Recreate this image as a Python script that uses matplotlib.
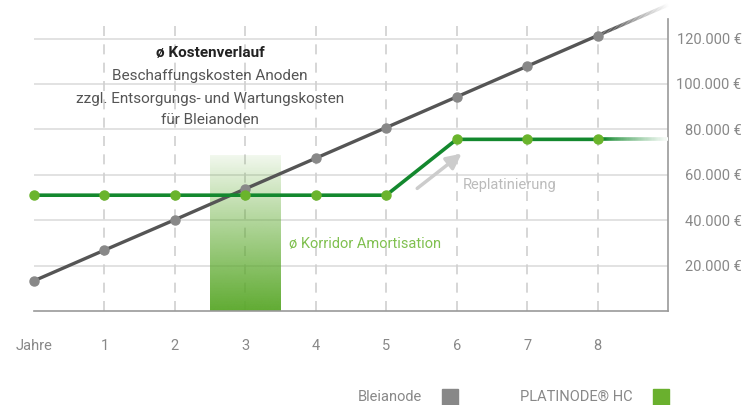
import numpy as np
import matplotlib
matplotlib.use("Agg")
import matplotlib.pyplot as plt
from matplotlib.collections import LineCollection
from matplotlib.colors import to_rgb

plt.rcParams['font.family'] = ['Roboto', 'DejaVu Sans']

# ---- data ----
years = [0, 1, 2, 3, 4, 5, 6, 7, 8]
bleianode = [13300, 26800, 40200, 53800, 67300, 80800, 94300, 107800, 121300]
platinode = [51000, 51000, 51000, 51000, 51000, 51000, 75600, 75600, 75600]
ext_year = 9
bleianode_ext = 134800
platinode_ext = 75600
x_labels = ["Jahre", "1", "2", "3", "4", "5", "6", "7", "8"]
y_ticks = [20000, 40000, 60000, 80000, 100000, 120000]
y_labels = ["20.000 €", "40.000 €", "60.000 €", "80.000 €", "100.000 €", "120.000 €"]
corridor = (2.5, 3.5, 68700)

GRAY_LINE = "#555555"
GRAY_MARK = "#888888"
GREEN_LINE = "#13882e"
GREEN_MARK = "#6ab42c"

fig = plt.figure(figsize=(7.44, 4.05), dpi=100)
ax = fig.add_axes([34/744, (405-311)/405, (668-34)/744, (311-19)/405])
ax.set_xlim(0, 9)
ax.set_ylim(0, 128600)

# horizontal grid
for yv in y_ticks:
    ax.axhline(yv, color="#dddddd", lw=1.2, zorder=1)
# vertical dashed
for xv in years[1:]:
    ax.axvline(xv, color="#d0d0d0", lw=1.2, dashes=(6, 5), zorder=1)

# corridor gradient (opaque at bottom, fading towards top)
x0, x1, top = corridor
n = 256
grad = np.zeros((n, 1, 4))
c = to_rgb("#5aa82a")
grad[..., 0] = c[0]; grad[..., 1] = c[1]; grad[..., 2] = c[2]
grad[:, 0, 3] = 0.08 + 0.88 * np.linspace(1.0, 0.0, n) ** 0.95
ax.imshow(grad, extent=[x0, x1, 0, top], origin='lower', aspect='auto', zorder=2, interpolation='bilinear')
ax.set_xlim(0, 9)
ax.set_ylim(0, 128600)

def fade_line(xa, ya, xb, yb, color, lw, start=0.2):
    t = np.linspace(0, 1, 60)
    xs = xa + (xb - xa) * t
    ys = ya + (yb - ya) * t
    pts = np.array([xs, ys]).T.reshape(-1, 1, 2)
    segs = np.concatenate([pts[:-1], pts[1:]], axis=1)
    base = np.array(to_rgb(color))
    cols = []
    for tt in t[:-1]:
        f = 0 if tt < start else min(1, (tt - start) / (1 - start)) ** 0.8
        cc = base * (1 - f) + np.ones(3) * f
        cols.append((*cc, 1))
    lc = LineCollection(segs, colors=cols, linewidths=lw, zorder=3, clip_on=False, capstyle='butt')
    ax.add_collection(lc)

ax.plot(years, bleianode, color=GRAY_LINE, lw=2.4, zorder=3, solid_capstyle='butt')
fade_line(years[-1], bleianode[-1], ext_year, bleianode_ext, GRAY_LINE, 2.4, start=0.25)
ax.plot(years, bleianode, 'o', color=GRAY_MARK, ms=6.5, zorder=4, clip_on=False)

ax.plot(years, platinode, color=GREEN_LINE, lw=2.6, zorder=3, solid_capstyle='butt')
fade_line(years[-1], platinode[-1], ext_year, platinode_ext, GREEN_LINE, 2.6, start=0.1)
ax.plot(years, platinode, 'o', color=GREEN_MARK, ms=6.5, zorder=4, clip_on=False)

# spines
for s in ["left", "top"]:
    ax.spines[s].set_visible(False)
for s in ["right", "bottom"]:
    ax.spines[s].set_color("#999999")
    ax.spines[s].set_linewidth(1.2)

ax.set_xticks(years)
ax.set_xticklabels(x_labels, color="#888888", fontsize=10.5)
ax.tick_params(axis='x', length=0, pad=20)
ax.yaxis.tick_right()
ax.set_yticks(y_ticks)
ax.set_yticklabels(y_labels, color="#888888", fontsize=10.5)
ax.tick_params(axis='y', length=0, pad=53)
for lab in ax.get_yticklabels():
    lab.set_horizontalalignment('right')

# annotations
tr = ax.get_xaxis_transform()
ax.text(2.5, 0.882, "ø Kostenverlauf", transform=tr, ha='center', va='center',
        fontsize=11, fontweight='bold', color="#222222")
ax.text(2.5, 0.804, "Beschaffungskosten Anoden", transform=tr, ha='center', va='center',
        fontsize=11, color="#555555")
ax.text(2.5, 0.726, "zzgl. Entsorgungs- und Wartungskosten", transform=tr, ha='center', va='center',
        fontsize=11, color="#555555")
ax.text(2.5, 0.653, "für Bleianoden", transform=tr, ha='center', va='center',
        fontsize=11, color="#555555")

ax.text(3.62, 29500, "ø Korridor Amortisation", ha='left', va='center', fontsize=10.5, color="#80c050", zorder=5)
ax.text(6.08, 55500, "Replatinierung", ha='left', va='center', fontsize=10.5, color="#bbbbbb", zorder=5)
ax.annotate("", xy=(6.07, 69300), xytext=(5.44, 54000),
            arrowprops=dict(arrowstyle='-|>,head_length=0.9,head_width=0.45', color="#cccccc", lw=2.5,
                            shrinkA=0, shrinkB=0), zorder=5)

# legend
fig.text(422/744, (405-397)/405, "Bleianode", ha='right', va='center', fontsize=10.5, color="#888888")
fig.patches.append(plt.Rectangle((442/744, 0), 16/744, 16/405, transform=fig.transFigure,
                                 color=GRAY_MARK, figure=fig))
fig.text(633/744, (405-397)/405, "PLATINODE® HC", ha='right', va='center', fontsize=10.5, color="#888888")
fig.patches.append(plt.Rectangle((653/744, 0), 16/744, 16/405, transform=fig.transFigure,
                                 color="#6ab02e", figure=fig))

fig.savefig("out.png", dpi=100, facecolor="white")
